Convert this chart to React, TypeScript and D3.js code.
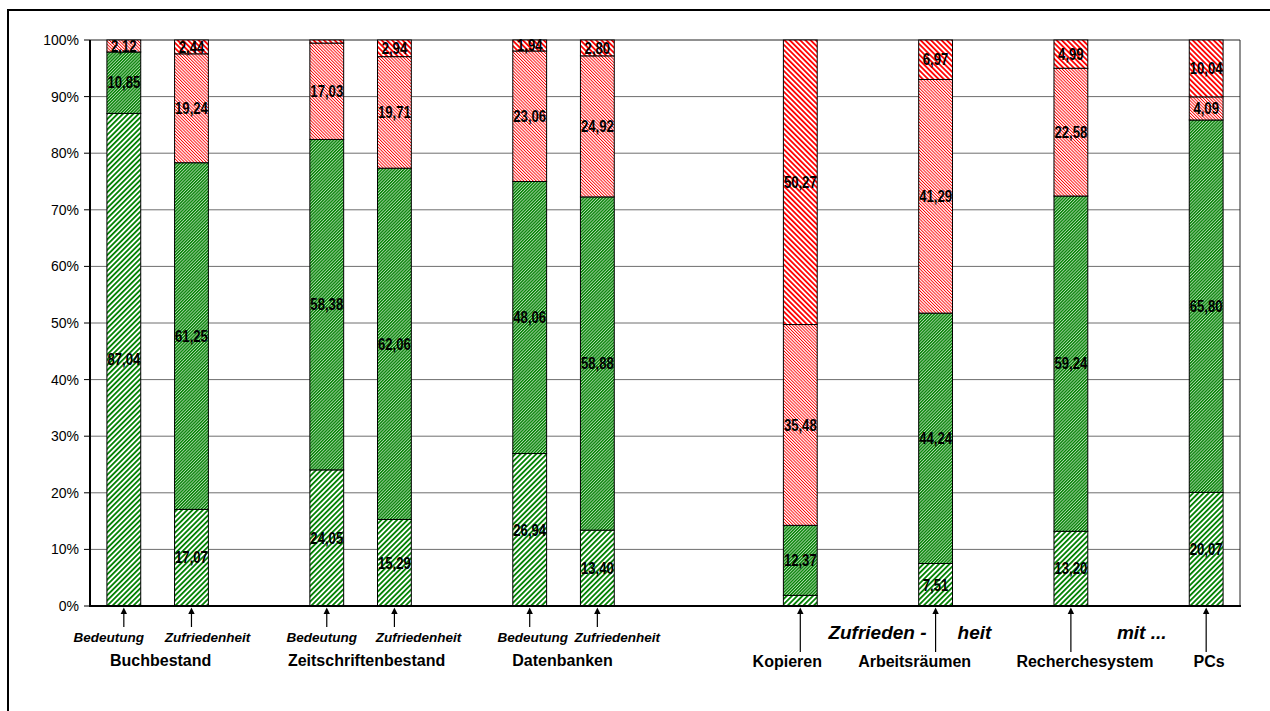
import React from "react";
import * as d3 from "d3";

// Survey topics, one entry per bar (left to right)
const topics = [
  "Buchbestand", "Buchbestand",
  "Zeitschriftenbestand", "Zeitschriftenbestand",
  "Datenbanken", "Datenbanken",
  "Kopieren", "Arbeitsräumen", "Recherchesystem", "PCs",
];
const aspects = [
  "Bedeutung", "Zufriedenheit",
  "Bedeutung", "Zufriedenheit",
  "Bedeutung", "Zufriedenheit",
  "Zufriedenheit", "Zufriedenheit", "Zufriedenheit", "Zufriedenheit",
];

// Answer shares in percent, stacked from the bottom up
const stufe1 = [87.04, 17.07, 24.05, 15.29, 26.94, 13.40, 1.88, 7.51, 13.20, 20.07];
const stufe2 = [10.85, 61.25, 58.38, 62.06, 48.06, 58.88, 12.37, 44.24, 59.24, 65.80];
const stufe3 = [2.12, 19.24, 17.03, 19.71, 23.06, 24.92, 35.48, 41.29, 22.58, 4.09];
const stufe4 = [0, 2.44, 0.54, 2.94, 1.94, 2.80, 50.27, 6.97, 4.99, 10.04];

const yTicks = [0, 0.1, 0.2, 0.3, 0.4, 0.5, 0.6, 0.7, 0.8, 0.9, 1];

const seriesKeys = ["stufe1", "stufe2", "stufe3", "stufe4"];
const seriesFill: Record<string, string> = {
  stufe1: "url(#gruenWeit)",
  stufe2: "url(#gruenDicht)",
  stufe3: "url(#rotDicht)",
  stufe4: "url(#rotWeit)",
};

const FONT = "Arial, 'Liberation Sans', Helvetica, sans-serif";

const barIds = topics.map((t, i) => `${t}|${aspects[i]}`);
// band slots, empty slots separate the groups
const slotOrder = [
  barIds[0], barIds[1], "_1",
  barIds[2], barIds[3], "_2",
  barIds[4], barIds[5], "_3", "_4",
  barIds[6], "_5", barIds[7], "_6", barIds[8], "_7", barIds[9],
];

// label nudges for the hand-placed captions under the axis
const aspectDx = [-15, 16, -5, 24, 3, 20];
const groupDx: Record<string, number> = { Buchbestand: 3, Zeitschriftenbestand: 6, Datenbanken: -1 };
const singleDx: Record<string, number> = { Kopieren: -13, "Arbeitsräumen": -21, Recherchesystem: 14, PCs: 3 };

const fmt = (v: number) => v.toFixed(2).replace(".", ",");

export default function App() {
  const left = 90, right = 1240, top = 40, bottom = 606;

  const x = d3.scaleBand<string>().domain(slotOrder).range([left, right])
    .paddingInner(0.5).paddingOuter(0.25);
  const y = d3.scaleLinear().domain([0, 1]).range([bottom, top]);

  const rows = barIds.map((id, i) => ({
    id,
    stufe1: stufe1[i], stufe2: stufe2[i], stufe3: stufe3[i], stufe4: stufe4[i],
  }));
  const layers = d3.stack<any>().keys(seriesKeys).offset(d3.stackOffsetExpand)(rows);
  const bw = x.bandwidth();
  const cx = (id: string) => (x(id) as number) + bw / 2;

  const pairGroups = ["Buchbestand", "Zeitschriftenbestand", "Datenbanken"];
  const singles = ["Kopieren", "Arbeitsräumen", "Recherchesystem", "PCs"];

  const arrow = (xc: number, y2: number, key: string) => (
    <g key={key}>
      <line x1={xc} x2={xc} y1={612} y2={y2} stroke="#000" strokeWidth={1.2} />
      <path d={`M${xc},${607.5} L${xc - 3.2},${614} L${xc + 3.2},${614} Z`} fill="#000" />
    </g>
  );

  const idArb = barIds[7];
  const idRec = barIds[8];

  return (
    <svg width={1270} height={711} style={{ position: "absolute", left: 0, top: 0 }}
      fontFamily={FONT}>
      <defs>
        <pattern id="gruenWeit" patternUnits="userSpaceOnUse" width={3.7} height={3.7}
          patternTransform="rotate(45)">
          <rect width={3.7} height={3.7} fill="#fff" />
          <rect width={1.8} height={3.7} fill="#008000" />
        </pattern>
        <pattern id="gruenDicht" patternUnits="userSpaceOnUse" width={2.2} height={2.2}
          patternTransform="rotate(45)">
          <rect width={2.2} height={2.2} fill="#b0d8b0" />
          <rect width={1.3} height={2.2} fill="#008000" />
        </pattern>
        <pattern id="rotDicht" patternUnits="userSpaceOnUse" width={2.2} height={2.2}
          patternTransform="rotate(-45)">
          <rect width={2.2} height={2.2} fill="#fff" />
          <rect width={0.9} height={2.2} fill="#ff0000" />
        </pattern>
        <pattern id="rotWeit" patternUnits="userSpaceOnUse" width={3.7} height={3.7}
          patternTransform="rotate(-45)">
          <rect width={3.7} height={3.7} fill="#fff" />
          <rect width={1.8} height={3.7} fill="#ff0000" />
        </pattern>
      </defs>

      {/* outer frame */}
      <rect x={8} y={10} width={1400} height={900} fill="none" stroke="#000" strokeWidth={2} />

      {/* gridlines */}
      {yTicks.slice(1, -1).map((t) => (
        <line key={t} x1={left} x2={right} y1={y(t)} y2={y(t)} stroke="#6e6e6e" strokeWidth={1} />
      ))}
      <line x1={left} x2={right} y1={top} y2={top} stroke="#222" strokeWidth={1} />
      <line x1={right} x2={right} y1={top} y2={bottom} stroke="#222" strokeWidth={1} />

      {/* stacked bars */}
      {layers.map((layer) => (
        <g key={layer.key}>
          {layer.map((d: any) => (
            <rect key={d.data.id} x={x(d.data.id)} width={bw}
              y={y(d[1])} height={Math.max(0, y(d[0]) - y(d[1]))}
              fill={seriesFill[layer.key]} stroke="#000" strokeWidth={1} />
          ))}
        </g>
      ))}

      {/* value labels */}
      {layers.map((layer) => (
        <g key={"l" + layer.key}>
          {layer.map((d: any) => {
            const v = d.data[layer.key] as number;
            if (v < 1.9) return null;
            const yc = y((d[0] + d[1]) / 2);
            return (
              <text key={d.data.id}
                transform={`translate(${cx(d.data.id)},${yc}) scale(0.82,1)`}
                textAnchor="middle" dy="0.36em" fontSize={16} fontWeight="bold" fill="#000">
                {fmt(v)}
              </text>
            );
          })}
        </g>
      ))}

      {/* y axis */}
      <line x1={left} x2={left} y1={top} y2={bottom + 1} stroke="#000" strokeWidth={2} />
      {yTicks.map((t) => (
        <g key={"t" + t}>
          <line x1={left - 6} x2={left} y1={y(t)} y2={y(t)} stroke="#000" strokeWidth={1} />
          <text x={left - 11} y={y(t)} dy="0.36em" textAnchor="end" fontSize={14} fill="#000">
            {d3.format(".0%")(t)}
          </text>
        </g>
      ))}
      <line x1={left - 1} x2={right + 1} y1={bottom} y2={bottom} stroke="#000" strokeWidth={2} />

      {/* arrows and captions for the paired bars */}
      {barIds.slice(0, 6).map((id, i) => (
        <g key={"a" + id}>
          {arrow(cx(id), 627, "ar" + id)}
          <text x={cx(id) + aspectDx[i]} y={642} textAnchor="middle" fontSize={13.5}
            fontWeight="bold" fontStyle="italic">{aspects[i]}</text>
        </g>
      ))}
      {pairGroups.map((g) => {
        const ids = barIds.filter((id) => id.startsWith(g + "|"));
        const m = d3.mean(ids, cx) as number;
        return (
          <text key={"g" + g} x={m + groupDx[g]} y={666} textAnchor="middle"
            fontSize={16} fontWeight="bold">{g}</text>
        );
      })}

      {/* single bars */}
      {singles.map((s) => {
        const id = barIds[topics.indexOf(s)];
        return (
          <g key={"s" + s}>
            {arrow(cx(id), 652, "ars" + s)}
            <text x={cx(id) + singleDx[s]} y={667} textAnchor="middle" fontSize={16}
              fontWeight="bold">{s}</text>
          </g>
        );
      })}
      <g fontSize={19} fontWeight="bold" fontStyle="italic">
        <text x={cx(idArb) - 9} y={639} textAnchor="end">Zufrieden -</text>
        <text x={cx(idArb) + 22} y={639}>heit</text>
        <text x={cx(idRec) + 46} y={639}>mit ...</text>
      </g>
    </svg>
  );
}
